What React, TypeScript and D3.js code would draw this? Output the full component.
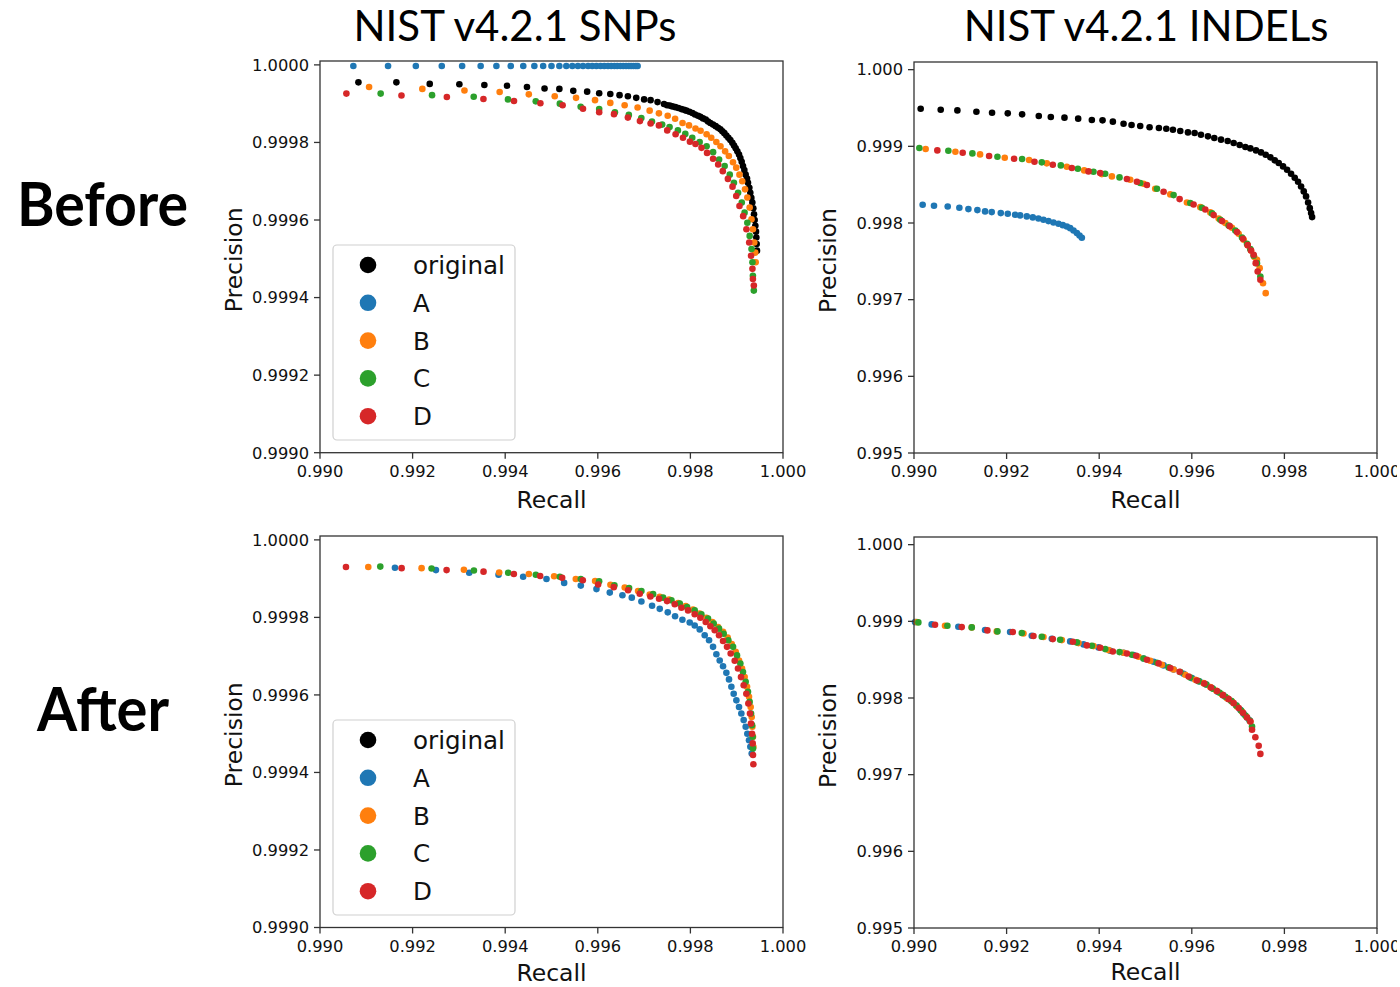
import React from "react";
import * as d3 from "d3";

// ---------- DATA ----------
const seriesNames = ["original", "A", "B", "C", "D"];
const seriesColors = ["#000000", "#1f77b4", "#ff7f0e", "#2ca02c", "#d62728"];
const recallTicks = [0.99, 0.992, 0.994, 0.996, 0.998, 1.0];
const snpPrecisionTicks = [0.999, 0.9992, 0.9994, 0.9996, 0.9998, 1.0];
const indelPrecisionTicks = [0.995, 0.996, 0.997, 0.998, 0.999, 1.0];
const columnTitles = ["NIST v4.2.1 SNPs", "NIST v4.2.1 INDELs"];
const rowTitles = ["Before", "After"];

// [recall, precision]
const snpBeforeOriginal = [
  [0.99083, 0.999955], [0.99165, 0.999955], [0.99237, 0.999951], [0.99301, 0.99995], [0.99355, 0.999948],
  [0.99404, 0.999946], [0.99447, 0.999943], [0.99485, 0.999939], [0.99517, 0.999938], [0.99547, 0.999933],
  [0.99577, 0.999931], [0.99603, 0.999927], [0.99627, 0.999925], [0.99647, 0.999922], [0.99665, 0.999919],
  [0.99683, 0.999915], [0.997, 0.999911], [0.99714, 0.999909], [0.99729, 0.999904], [0.99743, 0.999899],
  [0.997496, 0.999896], [0.997554, 0.999895], [0.997611, 0.999893], [0.997676, 0.999891], [0.997741, 0.999889],
  [0.997805, 0.999886], [0.997863, 0.999884], [0.997913, 0.999882], [0.997978, 0.999879], [0.998043, 0.999876],
  [0.9981, 0.999872], [0.998165, 0.999869], [0.998215, 0.999866], [0.998273, 0.999862], [0.998331, 0.999859],
  [0.998381, 0.999854], [0.998431, 0.99985], [0.998489, 0.999846], [0.998546, 0.999842], [0.998597, 0.999838],
  [0.998647, 0.999834], [0.99869, 0.999829], [0.998733, 0.999824], [0.998777, 0.999818], [0.99882, 0.999812],
  [0.998863, 0.999806], [0.998906, 0.999799], [0.998942, 0.999792], [0.998978, 0.999785], [0.999014, 0.999777],
  [0.99905, 0.999769], [0.999079, 0.99976], [0.999108, 0.99975], [0.999136, 0.999739], [0.999165, 0.999729],
  [0.999194, 0.999717], [0.999223, 0.999707], [0.999244, 0.999696], [0.999273, 0.999683], [0.999294, 0.99967],
  [0.999316, 0.999657], [0.999338, 0.999645], [0.999359, 0.99963], [0.999374, 0.999615], [0.999388, 0.9996],
  [0.999403, 0.999585], [0.999417, 0.99957], [0.999424, 0.999555], [0.999431, 0.999538], [0.999438, 0.999521],
];
const snpBeforeA = [
  0.99072, 0.99147, 0.99207, 0.99263, 0.99307, 0.99347, 0.99381, 0.99412, 0.99439, 0.99463, 0.99482, 0.995,
  0.99517, 0.99532, 0.99545, 0.99557, 0.99568, 0.99579, 0.99588, 0.99597, 0.99606, 0.99614, 0.99622, 0.99629,
  0.99636, 0.99642, 0.99649, 0.99655, 0.99661, 0.99667, 0.99672, 0.99677, 0.99682, 0.99686,
].map((r) => [r, 0.999997]);
const snpBeforeB = [
  [0.99106, 0.999943], [0.99221, 0.999938], [0.99312, 0.999934], [0.99388, 0.99993], [0.99451, 0.999924],
  [0.99507, 0.999919], [0.99553, 0.999915], [0.99594, 0.999909], [0.99627, 0.999902], [0.99658, 0.999896],
  [0.99686, 0.99989], [0.99712, 0.999882], [0.99732, 0.999875], [0.99751, 0.999869], [0.99767, 0.999861],
  [0.99783, 0.99985], [0.99797, 0.999844], [0.99811, 0.999836], [0.99822, 0.99983], [0.99835, 0.999821],
  [0.99845, 0.999812], [0.99856, 0.999801], [0.99865, 0.99979], [0.99875, 0.999777], [0.99883, 0.999765],
  [0.99892, 0.999749], [0.99899, 0.999735], [0.99906, 0.999717], [0.99912, 0.9997], [0.99918, 0.999679],
  [0.99923, 0.999658], [0.99928, 0.999632], [0.99932, 0.999602], [0.99935, 0.999576], [0.99938, 0.999542],
  [0.9994, 0.999516], [0.99941, 0.999491],
];
const snpBeforeC = [
  [0.99131, 0.999926], [0.99242, 0.999922], [0.99332, 0.999918], [0.99406, 0.999911], [0.99466, 0.999906],
  [0.99518, 0.9999], [0.99563, 0.999892], [0.99603, 0.999886], [0.99637, 0.999878], [0.99667, 0.999871],
  [0.99694, 0.999863], [0.99717, 0.999854], [0.99739, 0.999846], [0.99755, 0.99984], [0.99773, 0.999831],
  [0.99789, 0.999822], [0.99804, 0.999812], [0.9982, 0.999801], [0.99835, 0.99979], [0.99849, 0.999775],
  [0.99862, 0.999756], [0.99874, 0.999739], [0.99885, 0.999717], [0.99894, 0.999696], [0.99903, 0.99967],
  [0.99911, 0.999645], [0.99917, 0.999619], [0.99923, 0.999593], [0.99928, 0.999559], [0.99932, 0.999525],
  [0.99934, 0.999491], [0.99935, 0.999456], [0.99937, 0.999418],
];
const snpBeforeD = [
  [0.99057, 0.999926], [0.99176, 0.999921], [0.99274, 0.999917], [0.99353, 0.999912], [0.99419, 0.999907],
  [0.99476, 0.999901], [0.99524, 0.999896], [0.99568, 0.999887], [0.99603, 0.999878], [0.99635, 0.999873],
  [0.99665, 0.999864], [0.99691, 0.999855], [0.99714, 0.999849], [0.99732, 0.999844], [0.9975, 0.999831],
  [0.99768, 0.999821], [0.99784, 0.999812], [0.99799, 0.999802], [0.99811, 0.999796], [0.99824, 0.999786],
  [0.99836, 0.999773], [0.99849, 0.999758], [0.9986, 0.999743], [0.9987, 0.999726], [0.99881, 0.999706],
  [0.99891, 0.999686], [0.99899, 0.999662], [0.99906, 0.999636], [0.99914, 0.99961], [0.99921, 0.999576],
  [0.99927, 0.999542], [0.99931, 0.999508], [0.99934, 0.999474], [0.99935, 0.999448], [0.99937, 0.999431],
];

const indelBeforeOriginal = [
  [0.990144, 0.999491], [0.990577, 0.999478], [0.990937, 0.999469], [0.991348, 0.999452], [0.991686, 0.999439],
  [0.992025, 0.99943], [0.992335, 0.999417], [0.992695, 0.999396], [0.992955, 0.999382], [0.99325, 0.999374],
  [0.993546, 0.999361], [0.993841, 0.999343], [0.994072, 0.999339], [0.994295, 0.999322], [0.994526, 0.999295],
  [0.994699, 0.999278], [0.994886, 0.999265], [0.995088, 0.999248], [0.99529, 0.999239], [0.995449, 0.99923],
  [0.995593, 0.999217], [0.995751, 0.9992], [0.995917, 0.999182], [0.996061, 0.999174], [0.996198, 0.999152],
  [0.996349, 0.99913], [0.996486, 0.999108], [0.996631, 0.999087], [0.996775, 0.999069], [0.996904, 0.999043],
  [0.997034, 0.999017], [0.997157, 0.998991], [0.997265, 0.998973], [0.997387, 0.998947], [0.997495, 0.998921],
  [0.997596, 0.998891], [0.997697, 0.998856], [0.997791, 0.998817], [0.997877, 0.998782], [0.997971, 0.998738],
  [0.998058, 0.998695], [0.998144, 0.998643], [0.998223, 0.99859], [0.998295, 0.998538], [0.99836, 0.998477],
  [0.998418, 0.998412], [0.998468, 0.998347], [0.998512, 0.998268], [0.998548, 0.998194], [0.998577, 0.998129],
  [0.998598, 0.998077],
];
const indelBeforeA = [
  [0.990187, 0.998238], [0.990432, 0.998225], [0.990728, 0.998216], [0.99098, 0.998199], [0.991175, 0.998181],
  [0.991369, 0.998168], [0.991535, 0.998151], [0.991679, 0.998142], [0.991874, 0.998129], [0.992025, 0.99812],
  [0.992184, 0.998107], [0.992292, 0.998099], [0.992436, 0.998086], [0.992566, 0.998073], [0.992688, 0.998059],
  [0.992796, 0.998042], [0.992904, 0.998025], [0.993012, 0.998007], [0.993121, 0.99799], [0.993214, 0.997972],
  [0.993301, 0.997955], [0.993373, 0.997933], [0.993445, 0.997903], [0.993517, 0.997868], [0.993575, 0.997837],
  [0.993625, 0.997807],
];
const indelBeforeB = [
  [0.990252, 0.998965], [0.990894, 0.99893], [0.991427, 0.998895], [0.99196, 0.998852], [0.992486, 0.998821],
  [0.992868, 0.998778], [0.993301, 0.998734], [0.993675, 0.998686], [0.994057, 0.998638], [0.994274, 0.998608],
  [0.99467, 0.998564], [0.994958, 0.998512], [0.99521, 0.998447], [0.995535, 0.998373], [0.995895, 0.998268],
  [0.996183, 0.998207], [0.9964, 0.998138], [0.99658, 0.998059], [0.996724, 0.997999], [0.996868, 0.997938],
  [0.997012, 0.997859], [0.99712, 0.997781], [0.997207, 0.997711], [0.997279, 0.997642], [0.997351, 0.997555],
  [0.997408, 0.99752], [0.997466, 0.997411], [0.997538, 0.997215], [0.997596, 0.997085],
];
const indelBeforeC = [
  [0.990115, 0.998978], [0.990742, 0.998943], [0.991261, 0.998908], [0.991802, 0.998865], [0.992335, 0.998834],
  [0.99276, 0.998791], [0.993171, 0.998751], [0.993539, 0.998708], [0.993877, 0.998669], [0.994129, 0.998643],
  [0.994439, 0.998595], [0.994886, 0.998521], [0.995247, 0.998447], [0.995607, 0.998364], [0.995967, 0.99826],
  [0.996219, 0.998199], [0.996436, 0.998125], [0.996616, 0.998042], [0.996796, 0.997968], [0.99694, 0.997903],
  [0.997084, 0.997811], [0.997192, 0.997729], [0.997264, 0.997659], [0.997336, 0.997572], [0.997408, 0.997476],
  [0.997481, 0.997302],
];
const indelBeforeD = [
  [0.990504, 0.998947], [0.991052, 0.998917], [0.991622, 0.998873], [0.992162, 0.998838], [0.992602, 0.998799],
  [0.992998, 0.99876], [0.993409, 0.998717], [0.993769, 0.998673], [0.994021, 0.998651], [0.994598, 0.998573],
  [0.994814, 0.998538], [0.99503, 0.998495], [0.995391, 0.998408], [0.995737, 0.998312], [0.996039, 0.998242],
  [0.996291, 0.998177], [0.996472, 0.998103], [0.996652, 0.998025], [0.996818, 0.997959], [0.996976, 0.997881],
  [0.997106, 0.997794], [0.997207, 0.997711], [0.997279, 0.997642], [0.997336, 0.997585], [0.99738, 0.997476],
  [0.997423, 0.997367], [0.997481, 0.997259],
];

const snpAfterA = [
  [0.991619, 0.999928], [0.992504, 0.999922], [0.993223, 0.999915], [0.993856, 0.99991], [0.994388, 0.999905],
  [0.994892, 0.999899], [0.995273, 0.999889], [0.995633, 0.999882], [0.995971, 0.999873], [0.996259, 0.999864],
  [0.996532, 0.999857], [0.996734, 0.999851], [0.996942, 0.999841], [0.997172, 0.99983], [0.997338, 0.999822],
  [0.997511, 0.999813], [0.997669, 0.999803], [0.997827, 0.999794], [0.997985, 0.999787], [0.998093, 0.999779],
  [0.998201, 0.999769], [0.998309, 0.999754], [0.998403, 0.999741], [0.998489, 0.999724], [0.998561, 0.999705],
  [0.998633, 0.999689], [0.998705, 0.999674], [0.998777, 0.999657], [0.998834, 0.99964], [0.998885, 0.999621],
  [0.998935, 0.999603], [0.998993, 0.999586], [0.99905, 0.999569], [0.9991, 0.999552], [0.999151, 0.999535],
  [0.999194, 0.999518], [0.99923, 0.9995], [0.999266, 0.999483], [0.999295, 0.999466], [0.999324, 0.999449],
];
const snpAfterB = [
  [0.991043, 0.99993], [0.992194, 0.999927], [0.993108, 0.999923], [0.99387, 0.999916], [0.994511, 0.999912],
  [0.995057, 0.999906], [0.995525, 0.999899], [0.995942, 0.999894], [0.996273, 0.999884], [0.996582, 0.999877],
  [0.99687, 0.999868], [0.997122, 0.999859], [0.997338, 0.999853], [0.997539, 0.999846], [0.997734, 0.999837],
  [0.997899, 0.999829], [0.998057, 0.99982], [0.998201, 0.99981], [0.998345, 0.999799], [0.998475, 0.999788],
  [0.998597, 0.999775], [0.998705, 0.999763], [0.998805, 0.999748], [0.998892, 0.999731], [0.998978, 0.999711],
  [0.99905, 0.999689], [0.999115, 0.999668], [0.999172, 0.999646], [0.999223, 0.999621], [0.999266, 0.999595],
  [0.999302, 0.999569], [0.999324, 0.999543], [0.999338, 0.999518], [0.999352, 0.999492], [0.99936, 0.999466],
];
const snpAfterC = [
  [0.991302, 0.999931], [0.99241, 0.999926], [0.993324, 0.999921], [0.994065, 0.999915], [0.994662, 0.99991],
  [0.99518, 0.999905], [0.995633, 0.999899], [0.996029, 0.999893], [0.996359, 0.999883], [0.996676, 0.999876],
  [0.996942, 0.999868], [0.997194, 0.99986], [0.99741, 0.999851], [0.99759, 0.999844], [0.99777, 0.999836],
  [0.997928, 0.999827], [0.998093, 0.999818], [0.998237, 0.999808], [0.998381, 0.999797], [0.998503, 0.999784],
  [0.998618, 0.999771], [0.998719, 0.999758], [0.99882, 0.999741], [0.998921, 0.999724], [0.999007, 0.999702],
  [0.999079, 0.999681], [0.999136, 0.999659], [0.999194, 0.999634], [0.999244, 0.999608], [0.99928, 0.999582],
  [0.999309, 0.999552], [0.999331, 0.999522], [0.999345, 0.999492], [0.999352, 0.999462],
];
const snpAfterD = [
  [0.990561, 0.99993], [0.991763, 0.999927], [0.992734, 0.999922], [0.993532, 0.999918], [0.994187, 0.999912],
  [0.994755, 0.999907], [0.99523, 0.999902], [0.995676, 0.999896], [0.996007, 0.999885], [0.996345, 0.999878],
  [0.996654, 0.99987], [0.996906, 0.999861], [0.997136, 0.999854], [0.997323, 0.999848], [0.997496, 0.999842],
  [0.997662, 0.999834], [0.997806, 0.999825], [0.997949, 0.999818], [0.998093, 0.999808], [0.998215, 0.999799],
  [0.998331, 0.999788], [0.998432, 0.999777], [0.998525, 0.999767], [0.998618, 0.999754], [0.998705, 0.999739],
  [0.998791, 0.999724], [0.99887, 0.999707], [0.998957, 0.999688], [0.999028, 0.999668], [0.999093, 0.999646],
  [0.999151, 0.999625], [0.999208, 0.999603], [0.999252, 0.999578], [0.999287, 0.999552], [0.999309, 0.999526],
  [0.999331, 0.9995], [0.999345, 0.999475], [0.999352, 0.999445], [0.99936, 0.999421],
];

const indelAfterA = [
  [0.990022, 0.99899], [0.990382, 0.99896], [0.990958, 0.998929], [0.991535, 0.998886], [0.992076, 0.99886],
  [0.992544, 0.998812], [0.992976, 0.998773], [0.993373, 0.998738], [0.993661, 0.998699], [0.993985, 0.99866],
  [0.994238, 0.998616], [0.994526, 0.99859], [0.994742, 0.99856], [0.994958, 0.998516], [0.995175, 0.998473],
  [0.995391, 0.998425], [0.995607, 0.998372], [0.995823, 0.998316], [0.996003, 0.998259], [0.996169, 0.998216],
  [0.996313, 0.998177], [0.996436, 0.998129], [0.996558, 0.998081], [0.996674, 0.998037], [0.996774, 0.997994],
  [0.996868, 0.997955], [0.996962, 0.997902], [0.997048, 0.997846], [0.99712, 0.997794], [0.997193, 0.997746],
  [0.99725, 0.997707],
];
const indelAfterB = [
  [0.990058, 0.99899], [0.99067, 0.998943], [0.991247, 0.998921], [0.991787, 0.998869], [0.992364, 0.998842],
  [0.992796, 0.998795], [0.993193, 0.998755], [0.993553, 0.998716], [0.993877, 0.998677], [0.994202, 0.998625],
  [0.994526, 0.99859], [0.99485, 0.998538], [0.995103, 0.998486], [0.995355, 0.998433], [0.995607, 0.998372],
  [0.995859, 0.998303], [0.996076, 0.998238], [0.996256, 0.998194], [0.9964, 0.998142], [0.99653, 0.998094],
  [0.996652, 0.998046], [0.99676, 0.997998], [0.996868, 0.997955], [0.996976, 0.997889], [0.997084, 0.997824],
  [0.997178, 0.997759], [0.997265, 0.997694],
];
const indelAfterC = [
  [0.990094, 0.998986], [0.990721, 0.998943], [0.991247, 0.998921], [0.991802, 0.998869], [0.992328, 0.998847],
  [0.99276, 0.998799], [0.993157, 0.99876], [0.993517, 0.998725], [0.993841, 0.998681], [0.99413, 0.998638],
  [0.994439, 0.998599], [0.994706, 0.998564], [0.994958, 0.998516], [0.995247, 0.998459], [0.995499, 0.998399],
  [0.995751, 0.998338], [0.995967, 0.998268], [0.996147, 0.99822], [0.996313, 0.998177], [0.996457, 0.99812],
  [0.996602, 0.998068], [0.996724, 0.998016], [0.996847, 0.997963], [0.996962, 0.997902], [0.997063, 0.997837],
  [0.997157, 0.997772], [0.99725, 0.997707], [0.997301, 0.997628],
];
const indelAfterD = [
  [0.990454, 0.998956], [0.991031, 0.998925], [0.991585, 0.998882], [0.992133, 0.99886], [0.99258, 0.998808],
  [0.992998, 0.998768], [0.993431, 0.998734], [0.993733, 0.998686], [0.994022, 0.998655], [0.994295, 0.998607],
  [0.994598, 0.998581], [0.9948, 0.998551], [0.995031, 0.998499], [0.995283, 0.998451], [0.995535, 0.99839],
  [0.995737, 0.998342], [0.995931, 0.998281], [0.996111, 0.998229], [0.99627, 0.99819], [0.996414, 0.998137],
  [0.996544, 0.99809], [0.996674, 0.998037], [0.996796, 0.997985], [0.996904, 0.997933], [0.997013, 0.997868],
  [0.997106, 0.997807], [0.997193, 0.997746], [0.997265, 0.997694], [0.997301, 0.997585], [0.997373, 0.997489],
  [0.997445, 0.997376], [0.997481, 0.997271],
];

// ---------- LAYOUT ----------
type Pt = number[];
type PanelCfg = {
  left: number; right: number; top: number; bottom: number;
  yDomain: number[]; yTicks: number[]; yFmt: string;
  series: { data: Pt[]; color: string }[];
  legend: boolean; legendTop: number; xLabelOffset: number;
};

const panels: PanelCfg[] = [
  {
    left: 320, right: 783, top: 61, bottom: 452.7, yDomain: [0.999, 1.00001], yTicks: snpPrecisionTicks, yFmt: ".4f",
    series: [
      { data: snpBeforeOriginal, color: seriesColors[0] },
      { data: snpBeforeA, color: seriesColors[1] },
      { data: snpBeforeB, color: seriesColors[2] },
      { data: snpBeforeC, color: seriesColors[3] },
      { data: snpBeforeD, color: seriesColors[4] },
    ],
    legend: true, legendTop: 245, xLabelOffset: 55,
  },
  {
    left: 914, right: 1377, top: 62, bottom: 453, yDomain: [0.995, 1.0001], yTicks: indelPrecisionTicks, yFmt: ".3f",
    series: [
      { data: indelBeforeOriginal, color: seriesColors[0] },
      { data: indelBeforeA, color: seriesColors[1] },
      { data: indelBeforeB, color: seriesColors[2] },
      { data: indelBeforeC, color: seriesColors[3] },
      { data: indelBeforeD, color: seriesColors[4] },
    ],
    legend: false, legendTop: 0, xLabelOffset: 55,
  },
  {
    left: 320, right: 783, top: 536, bottom: 927.5, yDomain: [0.999, 1.00001], yTicks: snpPrecisionTicks, yFmt: ".4f",
    series: [
      { data: snpAfterA, color: seriesColors[1] },
      { data: snpAfterB, color: seriesColors[2] },
      { data: snpAfterC, color: seriesColors[3] },
      { data: snpAfterD, color: seriesColors[4] },
    ],
    legend: true, legendTop: 720, xLabelOffset: 53,
  },
  {
    left: 914, right: 1377, top: 537, bottom: 928, yDomain: [0.995, 1.0001], yTicks: indelPrecisionTicks, yFmt: ".3f",
    series: [
      { data: indelAfterA, color: seriesColors[1] },
      { data: indelAfterB, color: seriesColors[2] },
      { data: indelAfterC, color: seriesColors[3] },
      { data: indelAfterD, color: seriesColors[4] },
    ],
    legend: false, legendTop: 0, xLabelOffset: 52,
  },
];

const AXIS_FONT = "'DejaVu Sans', sans-serif";
const SLIDE_FONT = "Lato, 'Open Sans', sans-serif";
const SPINE = "#333";

function Panel({ cfg }: { cfg: PanelCfg }) {
  const x = d3.scaleLinear().domain([0.99, 1.0]).range([cfg.left, cfg.right]);
  const y = d3.scaleLinear().domain(cfg.yDomain).range([cfg.bottom, cfg.top]);
  const fx = d3.format(".3f");
  const fy = d3.format(cfg.yFmt);
  const cx = (cfg.left + cfg.right) / 2;
  const cy = (cfg.top + cfg.bottom) / 2;
  const legendLeft = cfg.left + 13;
  const rowH = 37.8;
  return (
    <g>
      {cfg.series.map((s, i) => (
        <g key={i} fill={s.color}>
          {s.data.map((d, j) => (
            <circle key={j} cx={x(d[0])} cy={y(d[1])} r={3.3} />
          ))}
        </g>
      ))}
      <rect x={cfg.left} y={cfg.top} width={cfg.right - cfg.left} height={cfg.bottom - cfg.top}
        fill="none" stroke={SPINE} strokeWidth={1.3} />
      {recallTicks.map((t) => (
        <g key={"x" + t}>
          <line x1={x(t)} x2={x(t)} y1={cfg.bottom} y2={cfg.bottom + 6} stroke={SPINE} strokeWidth={1.3} />
          <text x={x(t)} y={cfg.bottom + 24} textAnchor="middle" fontFamily={AXIS_FONT} fontSize={16.3} fill="#111">
            {fx(t)}
          </text>
        </g>
      ))}
      {cfg.yTicks.map((t) => (
        <g key={"y" + t}>
          <line x1={cfg.left - 6} x2={cfg.left} y1={y(t)} y2={y(t)} stroke={SPINE} strokeWidth={1.3} />
          <text x={cfg.left - 11} y={y(t) + 5.8} textAnchor="end" fontFamily={AXIS_FONT} fontSize={16.3} fill="#111">
            {fy(t)}
          </text>
        </g>
      ))}
      <text x={cx} y={cfg.bottom + cfg.xLabelOffset} textAnchor="middle" fontFamily={AXIS_FONT} fontSize={23.5} fill="#111">
        Recall
      </text>
      <text transform={`translate(${cfg.left - 78},${cy + 3}) rotate(-90)`} textAnchor="middle"
        fontFamily={AXIS_FONT} fontSize={23.5} fill="#111">
        Precision
      </text>
      {cfg.legend && (
        <g>
          <rect x={legendLeft} y={cfg.legendTop} width={182} height={195} rx={4} ry={4}
            fill="#fff" fillOpacity={0.8} stroke="#d0d0d0" strokeWidth={1.2} />
          {seriesNames.map((n, i) => (
            <g key={n}>
              <circle cx={legendLeft + 35} cy={cfg.legendTop + 20 + i * rowH} r={8.3} fill={seriesColors[i]} />
              <text x={legendLeft + 80} y={cfg.legendTop + 20 + i * rowH + 9} fontFamily={AXIS_FONT}
                fontSize={24.6} fill="#111">
                {n}
              </text>
            </g>
          ))}
        </g>
      )}
    </g>
  );
}

export default function App() {
  return (
    <div style={{ position: "absolute", left: 0, top: 0 }}>
      <svg width={1400} height={987} style={{ display: "block", background: "#fff" }}>
        <defs>
          <clipPath id="pageClip">
            <rect x={0} y={0} width={1397} height={987} />
          </clipPath>
        </defs>
        <rect x={0} y={0} width={1400} height={987} fill="#fff" />
        <g clipPath="url(#pageClip)">
          {panels.map((p, i) => (
            <Panel key={i} cfg={p} />
          ))}
          <text x={515} y={41} textAnchor="middle" fontFamily={SLIDE_FONT} fontSize={42} fill="#000">
            {columnTitles[0]}
          </text>
          <text x={1146} y={41} textAnchor="middle" fontFamily={SLIDE_FONT} fontSize={42} fill="#000">
            {columnTitles[1]}
          </text>
          <text x={17} y={226} textLength={171} lengthAdjust="spacingAndGlyphs" fontFamily={SLIDE_FONT}
            fontWeight="bold" fontSize={61} fill="#000">
            {rowTitles[0]}
          </text>
          <text x={37} y={731} textLength={132} lengthAdjust="spacingAndGlyphs" fontFamily={SLIDE_FONT}
            fontWeight="bold" fontSize={61} fill="#000">
            {rowTitles[1]}
          </text>
        </g>
      </svg>
    </div>
  );
}
